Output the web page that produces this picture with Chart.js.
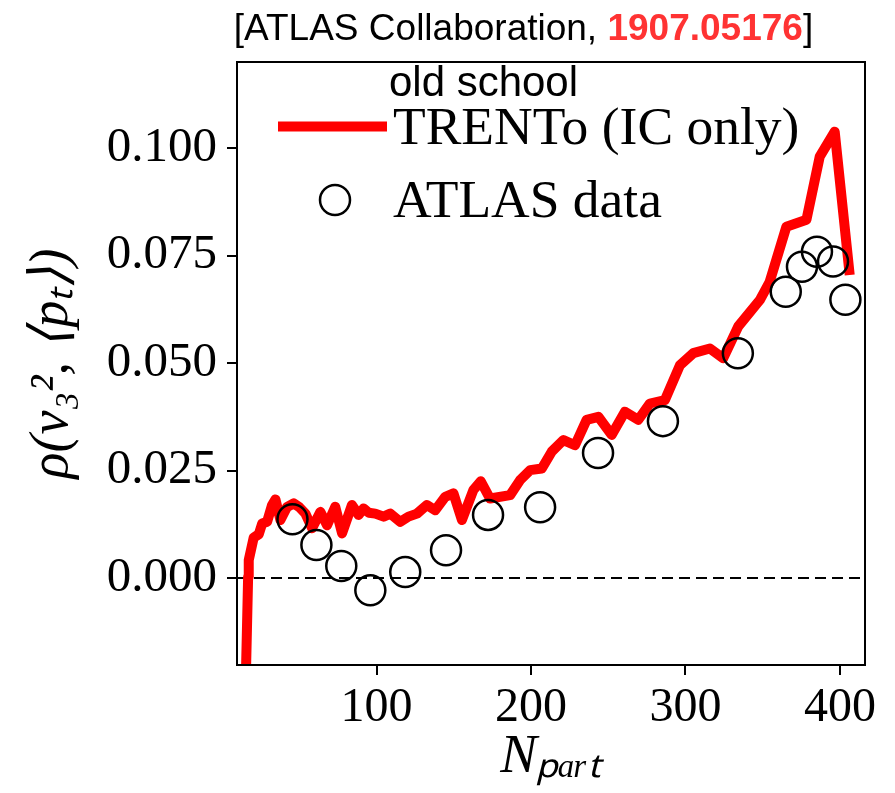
<!DOCTYPE html>
<html><head><meta charset="utf-8">
<script src="https://cdn.jsdelivr.net/npm/chart.js@4.4.0/dist/chart.umd.min.js"></script>
<style>
html,body{margin:0;padding:0;background:#fff;}
#wrap{position:relative;width:895px;height:793px;overflow:hidden;background:#fff;}
canvas{position:absolute;left:0;top:0;}
.t{position:absolute;white-space:nowrap;line-height:1;color:#000;}
</style></head><body>
<div id="wrap">
<canvas id="c" width="895" height="793"></canvas>
<div class="t" id="title" style="font-family:'Liberation Sans',Arial,sans-serif;font-size:37px;left:523.5px;top:8.5px;transform:translateX(-50%);">[ATLAS Collaboration, <span style="color:#f33;font-weight:bold">1907.05176</span>]</div>
<div class="t" id="note" style="font-family:'Liberation Sans',Arial,sans-serif;font-size:42px;left:483.5px;top:60.5px;transform:translateX(-50%);">old school</div>
<div class="t" id="lg1" style="font-family:'Liberation Serif','Times New Roman',serif;font-size:53.5px;left:393px;top:100.2px;">TRENTo (IC only)</div>
<div class="t" id="lg2" style="font-family:'Liberation Serif','Times New Roman',serif;font-size:53.5px;left:393px;top:173.2px;">ATLAS data</div>
</div>
<script>
// ---- data ----
const trentoNpart = [15, 16.9, 17.3, 20.5, 23.8, 26.0, 29.2, 32.4, 34.6, 37.8, 42, 46.4, 50, 54, 58.3, 63.7, 68, 73.3, 77.7, 84.1, 88.4, 91.6, 95, 99.2, 104.6, 108.9, 115.4, 120.7, 126.2, 132.6, 138, 144.5, 149.8, 155.3, 162.7, 167.5, 173.5, 186.5, 193, 199.4, 207, 213.4, 221, 228.5, 236, 243.6, 252.2, 260.8, 269.4, 277, 286.7, 296.4, 305, 315.8, 324.4, 334.1, 348.2, 354.5, 365.3, 378.3, 386.9, 396.6, 406.3];
const trentoRho = [-0.03, 0.0003, 0.0042, 0.0094, 0.0102, 0.0127, 0.0131, 0.0170, 0.0183, 0.0135, 0.0165, 0.0174, 0.0165, 0.0150, 0.0116, 0.0154, 0.0123, 0.0166, 0.0104, 0.0170, 0.0147, 0.0162, 0.0152, 0.0150, 0.0143, 0.0150, 0.0131, 0.0143, 0.0150, 0.0170, 0.0158, 0.0189, 0.0197, 0.0135, 0.0205, 0.0225, 0.0185, 0.0193, 0.0228, 0.0251, 0.0255, 0.0294, 0.0321, 0.0309, 0.0368, 0.0375, 0.0333, 0.0387, 0.0368, 0.0406, 0.0414, 0.0495, 0.0523, 0.0534, 0.0511, 0.0585, 0.0647, 0.0689, 0.0817, 0.0833, 0.0980, 0.1038, 0.0705];
const atlasNpart = [45.6, 61.1, 77.2, 96.0, 118.6, 145.0, 172.2, 205.9, 243.4, 285.4, 333.9, 364.9, 375.4, 385.1, 395.5, 403.5];
const atlasRho = [0.0137, 0.0077, 0.0028, -0.0028, 0.0014, 0.0065, 0.0147, 0.0165, 0.0291, 0.0365, 0.0523, 0.0666, 0.0724, 0.0759, 0.0736, 0.0647];
const xTickValues = [100, 200, 300, 400];
const yTickValues = [0, 0.025, 0.05, 0.075, 0.1];
const xRange = [9.7, 416.2];
const yRange = [-0.0202, 0.12];
const zeroLineRho = [0, 0];

const pts = (xs, ys) => xs.map((x, i) => ({x: x, y: ys[i]}));

const serif = "'Liberation Serif','Times New Roman',serif";

const framePlugin = {
  id: 'frame',
  afterDraw(chart) {
    const {ctx, chartArea: a} = chart;
    ctx.save();
    ctx.strokeStyle = '#000';
    ctx.lineWidth = 2;
    ctx.strokeRect(a.left, a.top, a.right - a.left, a.bottom - a.top);
    // legend samples
    ctx.strokeStyle = '#ff0000';
    ctx.lineWidth = 10;
    ctx.lineCap = 'butt';
    ctx.beginPath();
    ctx.moveTo(278, 126.5);
    ctx.lineTo(387, 126.5);
    ctx.stroke();
    ctx.strokeStyle = '#000';
    ctx.lineWidth = 2.5;
    ctx.beginPath();
    ctx.arc(335, 200, 15, 0, Math.PI * 2);
    ctx.stroke();
    ctx.restore();
  }
};

new Chart(document.getElementById('c'), {
  type: 'scatter',
  data: {
    datasets: [
      {
        label: 'ATLAS data',
        data: pts(atlasNpart, atlasRho),
        pointRadius: 15,
        pointHoverRadius: 15,
        pointBorderWidth: 2.5,
        pointBorderColor: '#000',
        pointBackgroundColor: 'rgba(0,0,0,0)',
        showLine: false,
        order: 0
      },
      {
        label: 'TRENTo (IC only)',
        data: pts(trentoNpart, trentoRho),
        showLine: true,
        borderColor: '#ff0000',
        borderWidth: 10,
        borderJoinStyle: 'round',
        pointRadius: 0,
        pointHoverRadius: 0,
        tension: 0,
        clip: 0,
        order: 1
      },
      {
        label: 'zero',
        data: pts(xRange, zeroLineRho),
        showLine: true,
        borderColor: '#000',
        borderWidth: 2,
        borderDash: [11, 6],
        pointRadius: 0,
        pointHoverRadius: 0,
        clip: 0,
        order: 2
      }
    ]
  },
  options: {
    responsive: false,
    animation: false,
    devicePixelRatio: 1,
    layout: {padding: {left: 0, top: 62, right: 30, bottom: 0}},
    plugins: {legend: {display: false}, tooltip: {enabled: false}, title: {display: false}},
    events: [],
    scales: {
      x: {
        type: 'linear',
        min: xRange[0], max: xRange[1],
        afterBuildTicks: s => { s.ticks = xTickValues.map(v => ({value: v})); },
        afterFit: s => { s.height = 128; },
        ticks: {font: {family: serif, size: 48}, color: '#000', padding: 5, maxRotation: 0, autoSkip: false,
                callback: v => String(v)},
        grid: {display: true, drawOnChartArea: false, drawTicks: true, tickLength: 10, color: '#000', lineWidth: 2},
        border: {display: true, color: '#000', width: 2},
        title: {display: true, text: 'Nₚₐᵣₜ', color: '#000', font: {family: serif, size: 55, style: 'italic'}, padding: {top: 0, bottom: 2}}
      },
      y: {
        type: 'linear',
        min: yRange[0], max: yRange[1],
        afterBuildTicks: s => { s.ticks = yTickValues.map(v => ({value: v})); },
        afterFit: s => { s.width = 237; },
        ticks: {font: {family: serif, size: 49}, color: '#000', padding: 10, autoSkip: false,
                callback: v => Number(v).toFixed(3)},
        grid: {display: true, drawOnChartArea: false, drawTicks: true, tickLength: 10, color: '#000', lineWidth: 2},
        border: {display: true, color: '#000', width: 2},
        title: {display: true, text: 'ρ(v₃², ⟨pₜ⟩)', color: '#000', font: {family: serif, size: 54, style: 'italic'}, padding: {top: 20, bottom: 0}}
      }
    }
  },
  plugins: [framePlugin]
});
</script>
</body></html>
